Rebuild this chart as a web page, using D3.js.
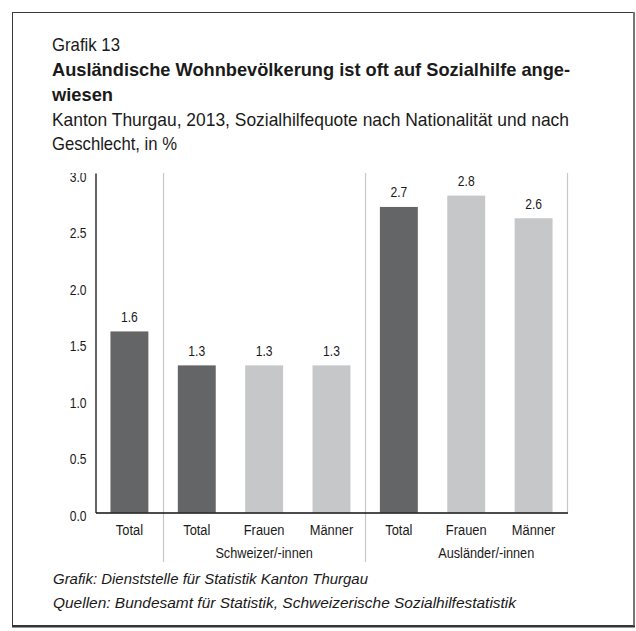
<!DOCTYPE html>
<html><head><meta charset="utf-8">
<script src="https://cdn.jsdelivr.net/npm/d3@7"></script>
<style>
html,body{margin:0;padding:0;background:#fff;}
text{font-family:'Liberation Sans',Arial,sans-serif;fill:#1a1a1a;}
</style></head>
<body><svg id="c" width="636" height="631"></svg>
<script>
// ---- data ----
const categories = ["Total", "Total", "Frauen", "Männer", "Total", "Frauen", "Männer"];
const groups = ["", "Schweizer/-innen", "Schweizer/-innen", "Schweizer/-innen", "Ausländer/-innen", "Ausländer/-innen", "Ausländer/-innen"];
const values = [1.6, 1.3, 1.3, 1.3, 2.7, 2.8, 2.6];
const isTotal = [true, true, false, false, true, false, false];
const yTicks = [0.0, 0.5, 1.0, 1.5, 2.0, 2.5, 3.0];
const groupNames = ["Schweizer/-innen", "Ausländer/-innen"];
const titleLines = ["Ausländische Wohnbevölkerung ist oft auf Sozialhilfe ange-", "wiesen"];
const subtitleLines = ["Kanton Thurgau, 2013, Sozialhilfequote nach Nationalität und nach", "Geschlecht, in %"];
const footerLines = ["Grafik: Dienststelle für Statistik Kanton Thurgau", "Quellen: Bundesamt für Statistik, Schweizerische Sozialhilfestatistik"];

const svg = d3.select("#c");
const DARK = "#646567", LIGHT = "#c6c7c9", SEP = "#c8c8c8";
const FONT = "'Liberation Sans',Arial,sans-serif";

// frame
svg.append("rect").attr("x", 12.5).attr("y", 12.5).attr("width", 621).attr("height", 613)
  .attr("fill", "none").attr("stroke", "#3a3a3a").attr("stroke-width", 1);
svg.append("line").attr("x1", 634).attr("x2", 634).attr("y1", 12).attr("y2", 627).attr("stroke", "#777").attr("stroke-width", 2);
svg.append("line").attr("x1", 12).attr("x2", 635).attr("y1", 626.5).attr("y2", 626.5).attr("stroke", "#333").attr("stroke-width", 2);

function fitText(sel, w) { sel.attr("textLength", w).attr("lengthAdjust", "spacingAndGlyphs"); return sel; }
function condense(sel, f) {
  sel.each(function () {
    const L = this.getComputedTextLength();
    d3.select(this).attr("textLength", L * f).attr("lengthAdjust", "spacingAndGlyphs");
  });
  return sel;
}

// headings
fitText(svg.append("text").attr("x", 52).attr("y", 50.5).attr("font-size", 18.5).text("Grafik 13"), 68);
const tw = [518, 61];
titleLines.forEach((t, i) => {
  fitText(svg.append("text").attr("x", 52).attr("y", 76 + i * 24.5).attr("font-size", 18.5).attr("font-weight", "bold").text(t), tw[i]);
});
const sw = [517, 125];
subtitleLines.forEach((t, i) => {
  fitText(svg.append("text").attr("x", 52).attr("y", 126 + i * 24).attr("font-size", 18.5).text(t), sw[i]);
});
const fw = [315, 463];
footerLines.forEach((t, i) => {
  fitText(svg.append("text").attr("x", 53).attr("y", 584 + i * 24).attr("font-size", 15.5).attr("font-style", "italic").text(t), fw[i]);
});

// scales
const x0 = 95.5, x1 = 567.5;
const x = d3.scaleBand().domain(d3.range(categories.length)).range([x0, x1]).paddingInner(0.437).paddingOuter(0.222);
const y = d3.scaleLinear().domain([0, 3]).range([512.5, 173]);

// separators
const sepX = [ (x(0) + x.bandwidth() + x(1)) / 2, (x(3) + x.bandwidth() + x(4)) / 2 ];
sepX.forEach(sx => {
  svg.append("line").attr("x1", Math.round(sx) + 0.5).attr("x2", Math.round(sx) + 0.5)
    .attr("y1", y(3)).attr("y2", 562).attr("stroke", SEP).attr("stroke-width", 1.2);
});
svg.append("line").attr("x1", x1).attr("x2", x1).attr("y1", y(3)).attr("y2", y(0)).attr("stroke", SEP).attr("stroke-width", 1.2);

// bars
svg.selectAll("rect.bar").data(values).join("rect").attr("class", "bar")
  .attr("x", (d, i) => x(i)).attr("width", x.bandwidth())
  .attr("y", d => y(d)).attr("height", d => y(0) - y(d))
  .attr("fill", (d, i) => isTotal[i] ? DARK : LIGHT);

// value labels
condense(svg.selectAll("text.val").data(values).join("text").attr("class", "val")
  .attr("x", (d, i) => x(i) + x.bandwidth() / 2).attr("y", d => y(d) - 9.5)
  .attr("text-anchor", "middle").attr("font-size", 15.5).text(d => d.toFixed(1)), 0.78);

// clip for the y tick labels (top label is cut at the plot top); coords in axis-group space
svg.append("defs").append("clipPath").attr("id", "yclip").append("rect")
  .attr("x", -x0).attr("y", y(3)).attr("width", x0 + 4).attr("height", 400);

// axes
const yAxis = d3.axisLeft(y).tickValues(yTicks).tickSize(0).tickPadding(9).tickFormat(d3.format(".1f"));
const gy = svg.append("g").attr("transform", `translate(${x0},0)`).call(yAxis);
gy.attr("clip-path", "url(#yclip)");
gy.select(".domain").attr("stroke", "#111").attr("stroke-width", 1.3);
condense(gy.selectAll("text").attr("font-size", 15.5).attr("dy", "8px").attr("fill", "#1a1a1a")
  .style("font-family", FONT), 0.78);

const xAxis = d3.axisBottom(x).tickSize(0).tickPadding(11).tickFormat(i => categories[i]);
const gx = svg.append("g").attr("transform", `translate(0,${y(0)})`).call(xAxis);
gx.select(".domain").attr("stroke", "#111").attr("stroke-width", 1.3);
condense(gx.selectAll("text").attr("font-size", 15.5).attr("dy", "0.71em").attr("fill", "#1a1a1a")
  .style("font-family", FONT), 0.83);

// group labels
const groupOffset = [0, 20];
groupNames.forEach((g, gi) => {
  const idx = d3.range(groups.length).filter(i => groups[i] === g);
  const cx = d3.mean(idx, i => x(i) + x.bandwidth() / 2) + groupOffset[gi];
  condense(svg.append("text").attr("x", cx).attr("y", 558).attr("text-anchor", "middle").attr("font-size", 15.5).text(g), 0.82);
});
</script></body></html>
